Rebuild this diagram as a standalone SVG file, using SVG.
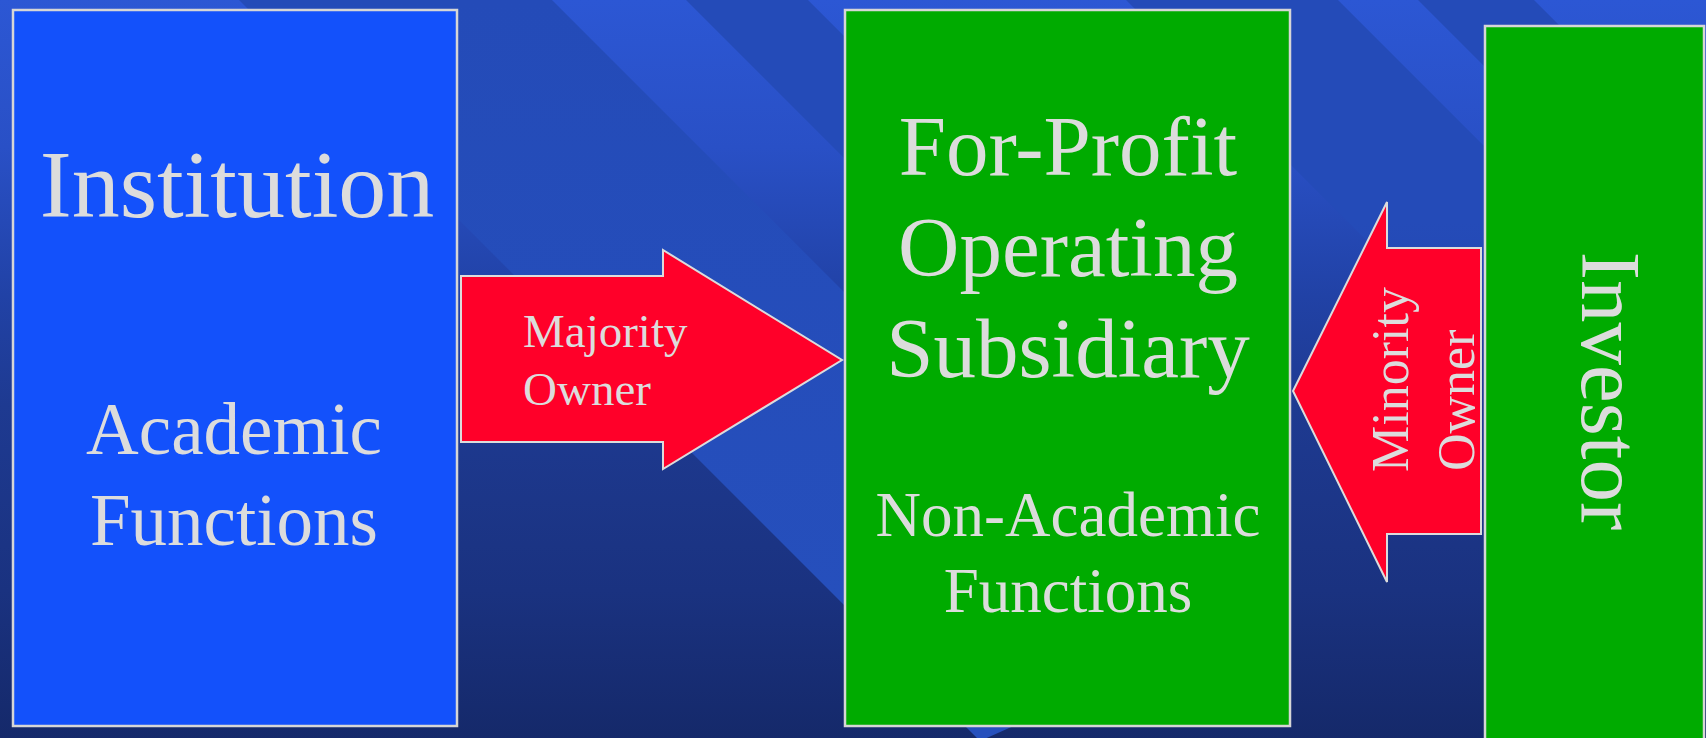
<svg xmlns="http://www.w3.org/2000/svg" width="1706" height="738" viewBox="0 0 1706 738">
  <defs>
    <linearGradient id="bg" x1="0" y1="0" x2="0" y2="738" gradientUnits="userSpaceOnUse">
      <stop offset="0" stop-color="#2c57d4"/>
      <stop offset="0.2" stop-color="#2950c6"/>
      <stop offset="0.4" stop-color="#2142a6"/>
      <stop offset="0.55" stop-color="#1e3a91"/>
      <stop offset="0.8" stop-color="#1a3280"/>
      <stop offset="1" stop-color="#15296a"/>
    </linearGradient>
    <linearGradient id="bandSolid" x1="0" y1="0" x2="0" y2="738" gradientUnits="userSpaceOnUse">
      <stop offset="0" stop-color="#244bb8"/>
      <stop offset="1" stop-color="#2650bd"/>
    </linearGradient>
    <linearGradient id="bandFade" x1="0" y1="0" x2="0" y2="738" gradientUnits="userSpaceOnUse">
      <stop offset="0" stop-color="#244bb8" stop-opacity="1"/>
      <stop offset="0.3" stop-color="#244bb8" stop-opacity="1"/>
      <stop offset="0.45" stop-color="#244bb8" stop-opacity="0"/>
    </linearGradient>
  </defs>
  <style>
    .box { stroke: #d6d6d6; stroke-width: 2.5; }
    .blue { fill: #1351fb; }
    .green { fill: #00ab00; }
    .arrow { fill: #ff0029; stroke: #dcdcdc; stroke-width: 2; }
    .t { font-family: "Liberation Serif", "Times New Roman", serif; fill: #dcdcdc; }
  </style>

  <!-- background -->
  <rect x="0" y="0" width="1706" height="738" fill="url(#bg)"/>
  <polygon points="239,0 552,0 1196,644 980,741" fill="url(#bandSolid)"/>
  <polygon points="686,0 808,0 1546,738 1424,738" fill="url(#bandFade)"/>
  <polygon points="1126,0 1338,0 2076,738 1864,738" fill="url(#bandFade)"/>
  <polygon points="1418,0 1534,0 2272,738 2156,738" fill="url(#bandFade)"/>

  <g id="connectors">
    <g id="majority-arrow">
      <polygon class="arrow" points="461,276 663,276 663,250 842,360 663,469 663,442 461,442"/>
      <text class="t" x="523" y="347" font-size="47">Majority</text>
      <text class="t" x="523" y="405" font-size="47">Owner</text>
    </g>
    <g id="minority-arrow">
      <polygon class="arrow" points="1481,248 1387,248 1387,202 1293,391 1387,582 1387,534 1481,534"/>
      <text class="t" font-size="52" transform="translate(1408,472) rotate(-90)">Minority</text>
      <text class="t" font-size="52" transform="translate(1474,471) rotate(-90)">Owner</text>
    </g>
  </g>

  <g id="institution">
    <rect class="box blue" x="13" y="10" width="444" height="716"/>
    <text class="t" x="237" y="217" font-size="96" text-anchor="middle">Institution</text>
    <text class="t" x="234" y="454" font-size="73" text-anchor="middle">Academic</text>
    <text class="t" x="234" y="545" font-size="73" text-anchor="middle">Functions</text>
  </g>

  <g id="subsidiary">
    <rect class="box green" x="845" y="10" width="445" height="716"/>
    <text class="t" x="1068" y="175" font-size="85" text-anchor="middle">For-Profit</text>
    <text class="t" x="1068" y="276" font-size="85" text-anchor="middle">Operating</text>
    <text class="t" x="1068" y="377" font-size="85" text-anchor="middle">Subsidiary</text>
    <text class="t" x="1068" y="536" font-size="63" text-anchor="middle">Non-Academic</text>
    <text class="t" x="1068" y="612" font-size="63" text-anchor="middle">Functions</text>
  </g>

  <g id="investor">
    <rect class="box green" x="1485" y="26" width="219" height="740"/>
    <text class="t" font-size="85" text-anchor="middle" transform="translate(1582,391) rotate(90)">Investor</text>
  </g>
</svg>
